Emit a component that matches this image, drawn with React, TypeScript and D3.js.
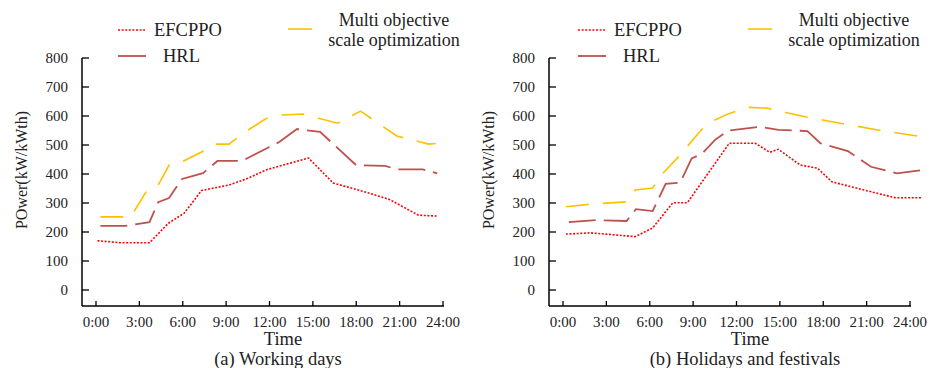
import React, { useEffect } from 'react';
import * as d3 from 'd3';

// tick labels
const hourTicks = [0, 3, 6, 9, 12, 15, 18, 21, 24];
const powerTicks = [0, 100, 200, 300, 400, 500, 600, 700, 800];

// (a) working days, vertices (hour, kW)
const workEfHours = [0.1, 1.7, 3.7, 5.0, 6.1, 7.3, 9.2, 10.5, 11.8, 13.4, 14.7, 16.4, 18.7, 20.3, 22.3, 23.6];
const workEf = [170, 163, 163, 230, 265, 343, 362, 385, 415, 437, 455, 369, 337, 312, 258, 255];
const workHrlHours = [0.3, 2.0, 3.7, 4.3, 5.05, 5.95, 7.4, 8.4, 10.1, 12.7, 13.9, 15.5, 18.0, 20.0, 20.8, 22.6, 23.6];
const workHrl = [221, 221, 234, 303, 317, 383, 403, 445, 445, 511, 555, 545, 430, 428, 416, 416, 402];
const workMosHours = [0.3, 2.4, 3.5, 4.3, 5.05, 5.9, 7.3, 8.2, 9.2, 10.3, 11.8, 12.7, 14.3, 16.7, 18.3, 20.8, 23.0, 23.5];
const workMos = [252, 252, 341, 362, 430, 441, 476, 503, 503, 545, 592, 603, 607, 575, 617, 531, 503, 505];

// (b) holidays and festivals
const holEfHours = [0.2, 1.9, 3.6, 5.0, 6.2, 7.6, 8.6, 11.5, 13.3, 14.3, 14.9, 16.4, 17.6, 18.6, 20.8, 23.0, 24.8];
const holEf = [193, 197, 190, 184, 214, 301, 301, 506, 506, 475, 485, 431, 420, 373, 345, 318, 318];
const holHrlHours = [0.4, 2.3, 4.4, 5.05, 6.2, 7.1, 8.1, 8.9, 9.6, 10.5, 11.4, 13.6, 14.9, 16.9, 17.8, 19.7, 21.3, 23.1, 24.8];
const holHrl = [234, 241, 238, 279, 272, 366, 370, 454, 469, 517, 549, 563, 552, 548, 506, 479, 425, 402, 413];
const holMosHours = [0.2, 1.9, 4.4, 5.0, 6.2, 6.9, 8.0, 9.6, 10.5, 11.5, 12.8, 14.1, 15.4, 16.9, 19.5, 22.1, 24.5];
const holMos = [287, 296, 304, 345, 352, 402, 460, 554, 586, 609, 630, 627, 612, 596, 572, 549, 531];

const FONT = '"Liberation Serif", "Times New Roman", serif';

const seriesStyle = {
  ef: { color: '#ff0000', width: 1.6, dash: '2,1.6' },
  hrl: { color: '#c0504d', width: 1.8, dash: '27,8' },
  mos: { color: '#ffc000', width: 1.6, dash: '23,14' },
};

type Pt = { h: number; v: number };
const zip = (hs: number[], vs: number[]): Pt[] => hs.map((h, i) => ({ h, v: vs[i] }));

const Panel = ({ dx, legendDx, title, ef, hrl, mos }) => {
  const axisX = 82 + dx;
  const x = d3.scaleLinear().domain([0, 24]).range([96 + dx, 443 + dx]);
  const y = d3.scaleLinear().domain([0, 800]).range([290, 58]);
  const line = d3.line<Pt>().x(d => x(d.h)).y(d => y(d.v));

  const lx = legendDx;
  return (
    <g fill="#222">
      {/* legend */}
      <line x1={118 + lx} x2={145 + lx} y1={30} y2={30} stroke={seriesStyle.ef.color} strokeWidth={1.4} strokeDasharray="2,1.6" />
      <text x={154 + lx} y={36} fontSize={18.5} fontFamily={FONT}>EFCPPO</text>
      <line x1={118 + lx} x2={146 + lx} y1={56} y2={56} stroke={seriesStyle.hrl.color} strokeWidth={1.8} />
      <text x={163 + lx} y={62} fontSize={18.5} fontFamily={FONT}>HRL</text>
      <line x1={288 + lx} x2={312 + lx} y1={29} y2={29} stroke={seriesStyle.mos.color} strokeWidth={1.6} />
      <text x={394 + lx} y={26} fontSize={18} fontFamily={FONT} textAnchor="middle">Multi objective</text>
      <text x={394 + lx} y={45.5} fontSize={18} fontFamily={FONT} textAnchor="middle">scale optimization</text>

      {/* axes */}
      <line x1={axisX} x2={axisX} y1={58} y2={306} stroke="#000" strokeWidth={1.5} />
      <line x1={axisX} x2={444 + dx} y1={306} y2={306} stroke="#000" strokeWidth={1.5} />
      {powerTicks.map(t => (
        <g key={t}>
          <line x1={axisX} x2={axisX + 7} y1={y(t)} y2={y(t)} stroke="#000" strokeWidth={1.3} />
          <text x={axisX - 14} y={y(t) + 5} fontSize={15} fontFamily={FONT} textAnchor="end">{t}</text>
        </g>
      ))}
      {hourTicks.map(t => (
        <g key={t}>
          <line x1={x(t)} x2={x(t)} y1={306} y2={301} stroke="#000" strokeWidth={1.3} />
          <text x={x(t)} y={327} fontSize={15} fontFamily={FONT} textAnchor="middle">{`${t}:00`}</text>
        </g>
      ))}
      <text x={283 + dx} y={345} fontSize={18.5} fontFamily={FONT} textAnchor="middle">Time</text>
      <text x={278 + dx} y={365} fontSize={18.5} fontFamily={FONT} textAnchor="middle">{title}</text>
      <text transform={`translate(${27 + dx},170) rotate(-90)`} fontSize={16} fontFamily={FONT} textAnchor="middle">POwer(kW/kWth)</text>

      {/* series */}
      <path d={line(mos) || ''} fill="none" stroke={seriesStyle.mos.color} strokeWidth={seriesStyle.mos.width} strokeDasharray={seriesStyle.mos.dash} />
      <path d={line(hrl) || ''} fill="none" stroke={seriesStyle.hrl.color} strokeWidth={seriesStyle.hrl.width} strokeDasharray={seriesStyle.hrl.dash} />
      <path d={line(ef) || ''} fill="none" stroke={seriesStyle.ef.color} strokeWidth={seriesStyle.ef.width} strokeDasharray={seriesStyle.ef.dash} />
    </g>
  );
};

export default function App() {
  useEffect(() => {
    document.body.style.margin = '0';
  }, []);
  return (
    <svg width={931} height={368} style={{ position: 'absolute', left: 0, top: 0, background: '#fff' }}>
      <Panel dx={0} legendDx={0} title="(a) Working days"
        ef={zip(workEfHours, workEf)} hrl={zip(workHrlHours, workHrl)} mos={zip(workMosHours, workMos)} />
      <Panel dx={467} legendDx={460} title="(b) Holidays and festivals"
        ef={zip(holEfHours, holEf)} hrl={zip(holHrlHours, holHrl)} mos={zip(holMosHours, holMos)} />
    </svg>
  );
}
